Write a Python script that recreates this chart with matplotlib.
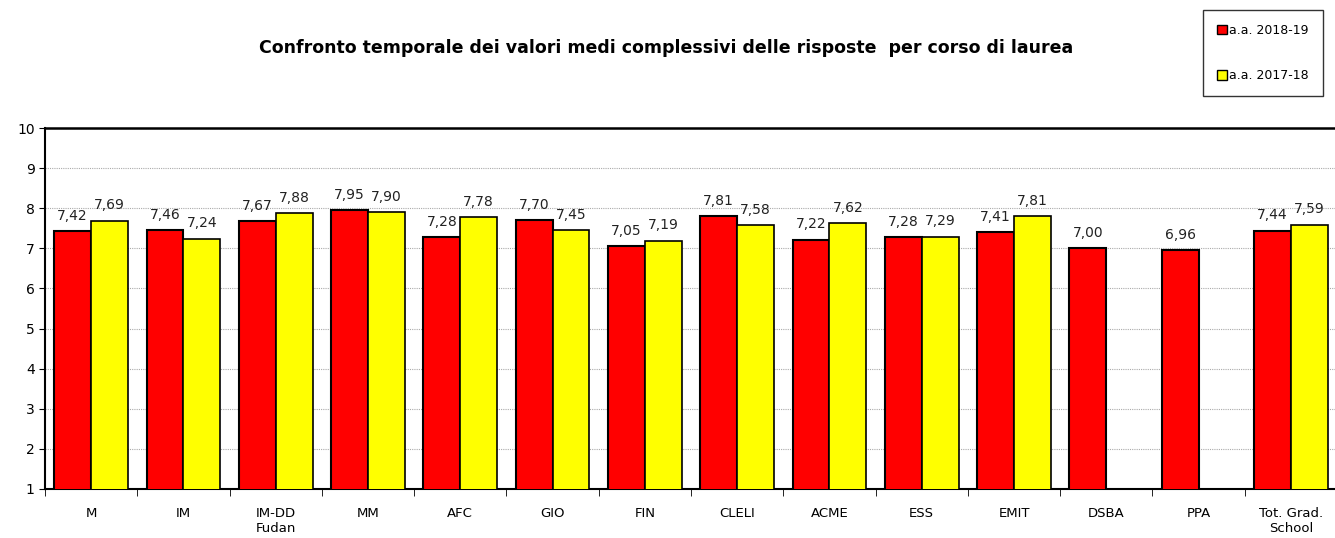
import numpy as np
import matplotlib.pyplot as plt
from matplotlib.patches import Patch

# dati
corsi = ['M', 'IM', 'IM-DD\nFudan', 'MM', 'AFC', 'GIO', 'FIN', 'CLELI', 'ACME',
         'ESS', 'EMIT', 'DSBA', 'PPA', 'Tot. Grad.\nSchool']
aa_2018_19 = [7.42, 7.46, 7.67, 7.95, 7.28, 7.70, 7.05, 7.81, 7.22, 7.28, 7.41, 7.00, 6.96, 7.44]
aa_2017_18 = [7.69, 7.24, 7.88, 7.90, 7.78, 7.45, 7.19, 7.58, 7.62, 7.29, 7.81, None, None, 7.59]
serie = ['a.a. 2018-19', 'a.a. 2017-18']
titolo = 'Confronto temporale dei valori medi complessivi delle risposte  per corso di laurea'

fig = plt.figure(figsize=(13.35, 5.38), dpi=100)
ax = fig.add_axes([45 / 1335, 49 / 538, 1292 / 1335, 361 / 538])

x = np.arange(len(corsi))
w = 0.4

# barre rosse
ax.bar(x - w / 2, aa_2018_19, width=w, color='#ff0000', edgecolor='black', linewidth=1.5, zorder=3)
for xi, v in zip(x, aa_2018_19):
    ax.annotate(f'{v:.2f}'.replace('.', ','), (xi - w / 2, v), xytext=(0, 6),
                textcoords='offset points', ha='center', va='bottom', fontsize=10, color='#222222')

# barre gialle
x2 = [xi for xi, v in zip(x, aa_2017_18) if v is not None]
v2 = [v for v in aa_2017_18 if v is not None]
ax.bar(np.array(x2) + w / 2, v2, width=w, color='#ffff00', edgecolor='black', linewidth=1.2, zorder=3)
for xi, v in zip(x2, v2):
    ax.annotate(f'{v:.2f}'.replace('.', ','), (xi + w / 2, v), xytext=(0, 6),
                textcoords='offset points', ha='center', va='bottom', fontsize=10, color='#222222')

ax.set_xlim(-0.5, len(corsi) - 0.5)
ax.set_ylim(1, 10)
ax.set_yticks(range(1, 11))
ax.tick_params(axis='y', labelsize=10, length=4, direction='out')
ax.set_xticks(x)
ax.set_xticklabels(corsi, fontsize=9.5, linespacing=1.2)
ax.tick_params(axis='x', length=0, pad=13)
ax.set_xticks(np.arange(-0.5, len(corsi) - 0.4, 1), minor=True)
ax.tick_params(axis='x', which='minor', length=5, direction='out')

ax.grid(axis='y', color='#aaaaaa', linestyle=(0, (1, 1)), linewidth=0.8, zorder=0)
ax.spines['right'].set_visible(False)
ax.spines['top'].set_linewidth(1.8)
ax.spines['left'].set_linewidth(1.5)
ax.spines['bottom'].set_linewidth(1.5)

fig.text(0.499, 1 - 48 / 538, titolo, ha='center', va='center', fontsize=12.5, fontweight='bold')

handles = [Patch(facecolor='#ff0000', edgecolor='black'), Patch(facecolor='#ffff00', edgecolor='black')]
leg = fig.legend(handles, serie, loc='upper left', bbox_to_anchor=(1203 / 1335, 1 - 10 / 538),
                 fontsize=9, handlelength=0.8, handleheight=0.8, handletextpad=0.2,
                 labelspacing=2.6, borderpad=1.1, borderaxespad=0, fancybox=False, edgecolor='black')
leg.get_frame().set_linewidth(1.0)

plt.savefig('out.png', dpi=100)
